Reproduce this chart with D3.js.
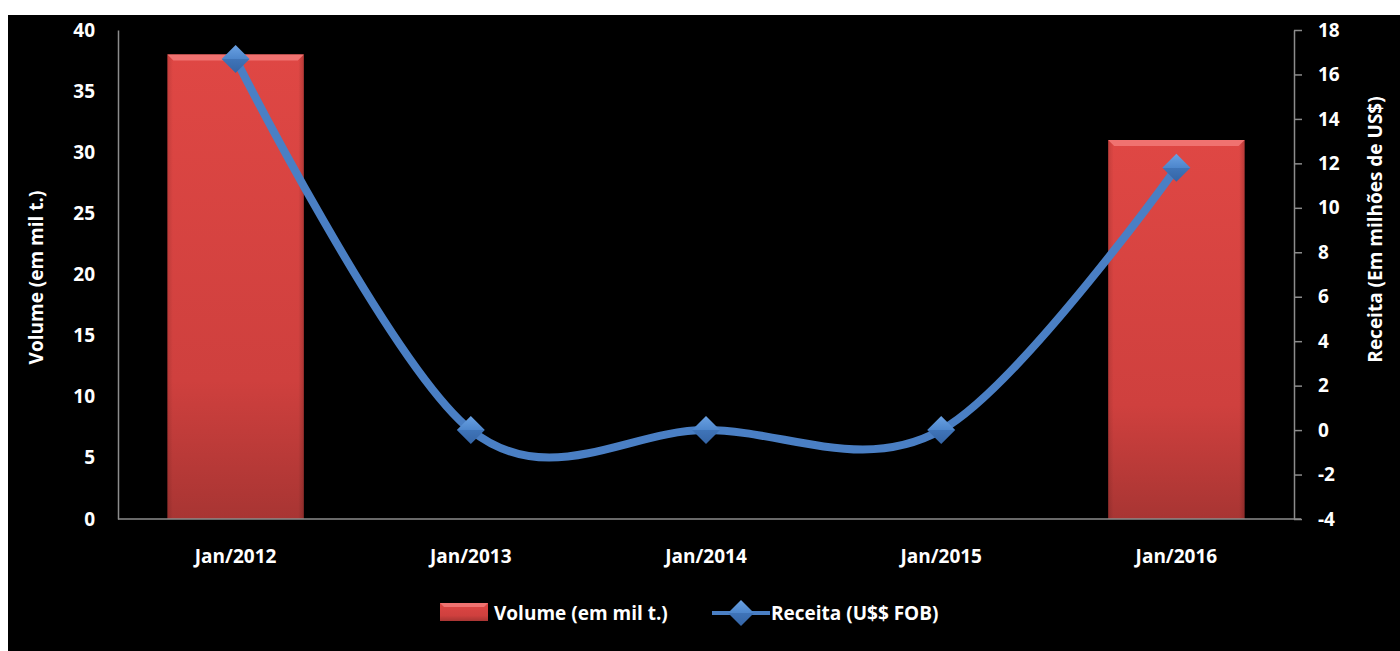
<!DOCTYPE html>
<html>
<head>
<meta charset="utf-8">
<script src="https://cdn.jsdelivr.net/npm/d3@7"></script>
<style>
  html, body { margin: 0; padding: 0; background: #fff; }
  svg { display: block; }
  text { font-family: "Open Sans", "Liberation Sans", sans-serif; font-weight: 700; fill: #fff; }
</style>
</head>
<body>
<svg id="chart" width="1400" height="651"></svg>
<script>
const categories = ["Jan/2012", "Jan/2013", "Jan/2014", "Jan/2015", "Jan/2016"];
const volume = [38, 0, 0, 0, 31];
const receita = [16.7, 0, 0, 0, 11.8];
const leftTicks = [0, 5, 10, 15, 20, 25, 30, 35, 40];
const rightTicks = [-4, -2, 0, 2, 4, 6, 8, 10, 12, 14, 16, 18];

const svg = d3.select("#chart");
const W = 1400, H = 651;
const plot = { left: 118, right: 1294, top: 30, bottom: 519 };
const fs = "19px";

// chart area background
svg.append("rect").attr("x", 8).attr("y", 15).attr("width", W - 8).attr("height", H - 15).attr("fill", "#000");

const defs = svg.append("defs");
const barGrad = defs.append("linearGradient").attr("id", "barGrad").attr("x1", 0).attr("y1", 0).attr("x2", 0).attr("y2", 1);
barGrad.append("stop").attr("offset", "0%").attr("stop-color", "#df4744");
barGrad.append("stop").attr("offset", "70%").attr("stop-color", "#cf403e");
barGrad.append("stop").attr("offset", "100%").attr("stop-color", "#a83533");
const sideGrad = defs.append("linearGradient").attr("id", "sideGrad").attr("x1", 0).attr("y1", 0).attr("x2", 1).attr("y2", 0);
sideGrad.append("stop").attr("offset", "0%").attr("stop-color", "#000").attr("stop-opacity", 0.12);
sideGrad.append("stop").attr("offset", "4%").attr("stop-color", "#000").attr("stop-opacity", 0);
sideGrad.append("stop").attr("offset", "96%").attr("stop-color", "#000").attr("stop-opacity", 0);
sideGrad.append("stop").attr("offset", "100%").attr("stop-color", "#000").attr("stop-opacity", 0.18);
const diaGrad = defs.append("linearGradient").attr("id", "diaGrad").attr("x1", 0).attr("y1", 0).attr("x2", 0).attr("y2", 1);
diaGrad.append("stop").attr("offset", "0%").attr("stop-color", "#6aa1e2");
diaGrad.append("stop").attr("offset", "50%").attr("stop-color", "#4d86cc");
diaGrad.append("stop").attr("offset", "51%").attr("stop-color", "#3f74b8");
diaGrad.append("stop").attr("offset", "100%").attr("stop-color", "#3565a6");

const x = d3.scaleBand().domain(categories).range([plot.left, plot.right]).paddingInner(0).paddingOuter(0);
const yL = d3.scaleLinear().domain([0, 40]).range([plot.bottom, plot.top]);
const yR = d3.scaleLinear().domain([-4, 18]).range([plot.bottom, plot.top]);

// bars
const barW = x.bandwidth() * 0.58;
const bars = svg.append("g").selectAll("g").data(categories.map((c, i) => ({ c, v: volume[i] })).filter(d => d.v > 0))
  .join("g");
bars.append("rect")
  .attr("x", d => x(d.c) + (x.bandwidth() - barW) / 2)
  .attr("y", d => yL(d.v))
  .attr("width", barW)
  .attr("height", d => yL(0) - yL(d.v))
  .attr("fill", "url(#barGrad)");
bars.append("rect")
  .attr("x", d => x(d.c) + (x.bandwidth() - barW) / 2)
  .attr("y", d => yL(d.v))
  .attr("width", barW)
  .attr("height", d => yL(0) - yL(d.v))
  .attr("fill", "url(#sideGrad)");
// bevelled top edge
bars.append("path")
  .attr("d", d => {
    const x0 = x(d.c) + (x.bandwidth() - barW) / 2, x1 = x0 + barW, y0 = yL(d.v), b = 6;
    return `M${x0},${y0}L${x1},${y0}L${x1 - b},${y0 + b}L${x0 + b},${y0 + b}Z`;
  })
  .attr("fill", "#f07270");

// axes
const axisColor = "#8c8c8c";
const plain = d => String(d);
const gL = svg.append("g").attr("transform", `translate(${plot.left},0)`)
  .call(d3.axisLeft(yL).tickValues(leftTicks).tickFormat(plain).tickSize(0).tickPadding(23));
gL.select(".domain").attr("stroke", axisColor).attr("stroke-width", 1.5);
gL.selectAll("text").style("font-size", fs).attr("fill", "#fff");

const gR = svg.append("g").attr("transform", `translate(${plot.right},0)`)
  .call(d3.axisRight(yR).tickValues(rightTicks).tickFormat(plain).tickSize(8).tickSizeOuter(0).tickPadding(16));
gR.select(".domain").attr("stroke", axisColor).attr("stroke-width", 1.5);
gR.selectAll(".tick line").attr("stroke", axisColor).attr("stroke-width", 1.5);
gR.selectAll("text").style("font-size", fs).attr("fill", "#fff");

const gB = svg.append("g").attr("transform", `translate(0,${plot.bottom})`)
  .call(d3.axisBottom(x).tickSize(0).tickPadding(31));
gB.select(".domain").attr("stroke", axisColor).attr("stroke-width", 1.5).attr("d", `M${plot.left},0H${plot.right + 7}`);
gB.selectAll("text").style("font-size", fs).attr("fill", "#fff");

// axis titles
svg.append("text").attr("transform", `translate(43,${(plot.top + plot.bottom) / 2 + 3}) rotate(-90)`)
  .attr("text-anchor", "middle").style("font-size", fs).text("Volume (em mil t.)");
svg.append("text").attr("transform", `translate(1382,${(plot.top + plot.bottom) / 2 - 45}) rotate(-90)`)
  .attr("text-anchor", "middle").style("font-size", fs).text("Receita (Em milhões de US$)");

// line series
const pts = categories.map((c, i) => [x(c) + x.bandwidth() / 2, yR(receita[i])]);
const line = d3.line().curve(d3.curveCardinal.tension(0));
svg.append("path").attr("d", line(pts)).attr("fill", "none").attr("stroke", "#4a7fc4").attr("stroke-width", 8);
const diamond = (cx, cy, r) => `M${cx},${cy - r}L${cx + r},${cy}L${cx},${cy + r}L${cx - r},${cy}Z`;
svg.append("g").selectAll("path").data(pts).join("path")
  .attr("d", d => diamond(d[0], d[1], 14))
  .attr("fill", "url(#diaGrad)");

// legend
const lg = svg.append("g");
lg.append("rect").attr("x", 440).attr("y", 603).attr("width", 48).attr("height", 18).attr("fill", "url(#barGrad)");
lg.append("path").attr("d", "M440,603L488,603L484,607L444,607Z").attr("fill", "#f07270");
lg.append("text").attr("x", 494).attr("y", 620).style("font-size", fs).text("Volume (em mil t.)");
lg.append("line").attr("x1", 712).attr("x2", 770).attr("y1", 613).attr("y2", 613).attr("stroke", "#4a7fc4").attr("stroke-width", 4);
lg.append("path").attr("d", diamond(741, 613, 13)).attr("fill", "url(#diaGrad)");
lg.append("text").attr("x", 771).attr("y", 620).style("font-size", fs).text("Receita (U$$ FOB)");
</script>
</body>
</html>
